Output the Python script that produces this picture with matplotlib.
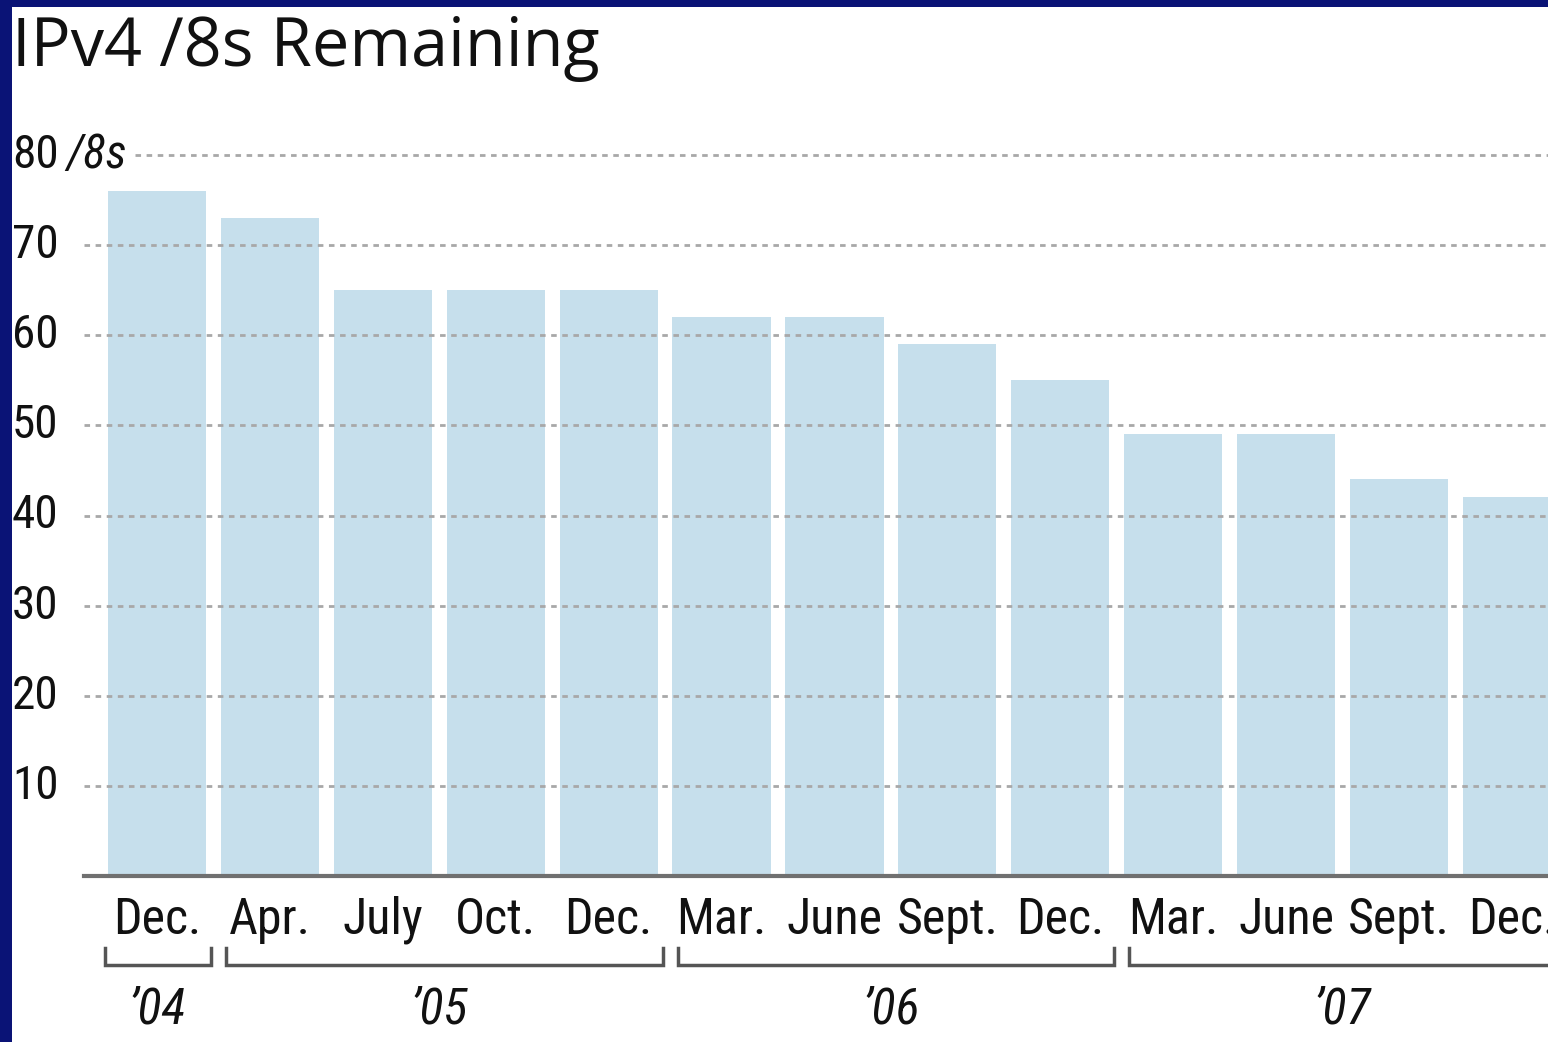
import matplotlib
matplotlib.use("Agg")
import matplotlib.pyplot as plt
import matplotlib.transforms as mtransforms
from matplotlib.patches import Rectangle

# ---- data ----
months = ["Dec.", "Apr.", "July", "Oct.", "Dec.", "Mar.", "June", "Sept.", "Dec.",
          "Mar.", "June", "Sept.", "Dec."]
remaining = [76, 73, 65, 65, 65, 62, 62, 59, 55, 49, 49, 44, 42]
years = ["\u201904", "\u201905", "\u201906", "\u201907"]
year_groups = [(0, 0), (1, 4), (5, 8), (9, 12)]
y_ticks = [10, 20, 30, 40, 50, 60, 70, 80]

TITLE = "IPv4 /8s Remaining"
NAVY = "#0a1376"
BAR = "#c6dfec"
GRID = "#a8a8a8"
TXT = "#111111"
NARROW = ["Roboto Condensed", "Noto Sans", "DejaVu Sans"]
ST = "condensed"

W, H = 1548, 1042
fig = plt.figure(figsize=(W / 100, H / 100), dpi=100)
fig.patch.set_facecolor(NAVY)
fig.add_artist(Rectangle((12 / W, 0), 1 - 12 / W, (H - 7) / H, transform=fig.transFigure,
                         facecolor="white", edgecolor="none", zorder=0))

ax = fig.add_axes([84 / W, (H - 876) / H, 1 - 84 / W, (876 - 155) / H])
ax.set_facecolor("none")
ax.set_xlim(-0.647, 12.32)
ax.set_ylim(0, 80)
for s in ax.spines.values():
    s.set_visible(False)
ax.set_xticks([])
ax.set_yticks([])

x = list(range(len(remaining)))
ax.bar(x, remaining, width=0.87, color=BAR, zorder=1)

for v in y_ticks:
    xmin = (135 - 84) / (W - 84) if v == 80 else 0
    ax.axhline(v, xmin=xmin, xmax=1, color=GRID, lw=2, ls=(0, (2, 2)), zorder=2, clip_on=False)
ax.axhline(0, color="#707070", lw=3, zorder=3, clip_on=False)

ytr = mtransforms.blended_transform_factory(fig.transFigure, ax.transData)
for v in y_ticks:
    ax.text(12 / W, v, str(v), transform=ytr, ha="left", va="center",
            fontsize=34, family=NARROW, fontstretch=ST, color=TXT)
ax.text(66 / W, 80, "/8s", transform=ytr, ha="left", va="center",
        fontsize=34, family=NARROW, fontstretch=ST, style="italic", color=TXT)

xtr = mtransforms.blended_transform_factory(ax.transData, fig.transFigure)
for i, m in enumerate(months):
    ax.text(i, (H - 920) / H, m, transform=xtr, ha="center", va="center",
            fontsize=36, family=NARROW, fontstretch=ST, color=TXT, clip_on=False)

yb = (H - 965) / H
yt = (H - 948) / H
for k, ((a, b), lab) in enumerate(zip(year_groups, years)):
    x0 = a - (0.46 if k == 0 else 0.39)
    x1 = b + 0.48
    ax.plot([x0, x0, x1, x1], [yt, yb, yb, yt], transform=xtr, color="#555555",
            lw=2.5, clip_on=False, solid_joinstyle="miter")
    ax.text((a + b) / 2, (H - 1010) / H, lab, transform=xtr, ha="center", va="center",
            fontsize=36, family=NARROW, fontstretch=ST, style="italic", color=TXT, clip_on=False)

fig.text(12 / W, (H - 48) / H, TITLE, ha="left", va="center", fontsize=48,
         family=["Open Sans", "DejaVu Sans"], color=TXT)

fig.savefig("out.png", dpi=100, facecolor=fig.get_facecolor())
